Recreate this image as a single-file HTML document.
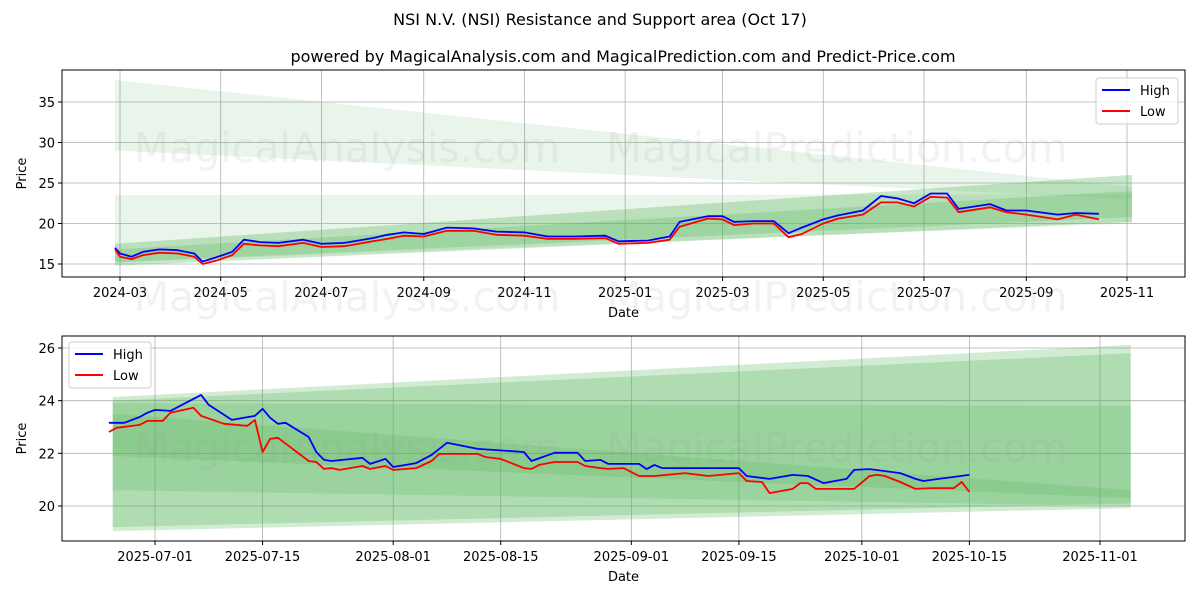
<!DOCTYPE html>
<html><head><meta charset="utf-8"><style>
body{margin:0;background:#fff;font-family:"Liberation Sans","DejaVu Sans",sans-serif}
svg text{font-family:"DejaVu Sans","Liberation Sans",sans-serif}
</style></head><body>
<svg id="c" width="1200" height="600" viewBox="0 0 1200 600" xmlns="http://www.w3.org/2000/svg">
<text x="600" y="25" text-anchor="middle" font-size="16">NSI N.V. (NSI) Resistance and Support area (Oct 17)</text>
<text x="623" y="62" text-anchor="middle" font-size="16">powered by MagicalAnalysis.com and MagicalPrediction.com and Predict-Price.com</text>
</svg>
<script>
// ---------- top chart data ----------
const topDates=["2024-02-27","2024-03-01","2024-03-08","2024-03-15","2024-03-25","2024-04-05","2024-04-15","2024-04-20","2024-04-28","2024-05-08","2024-05-15","2024-05-25","2024-06-05","2024-06-20","2024-07-01","2024-07-15","2024-08-01","2024-08-10","2024-08-20","2024-09-01","2024-09-15","2024-10-01","2024-10-15","2024-11-01","2024-11-15","2024-12-01","2024-12-20","2024-12-28","2025-01-15","2025-01-28","2025-02-03","2025-02-20","2025-03-01","2025-03-08","2025-03-20","2025-04-01","2025-04-10","2025-04-18","2025-05-01","2025-05-10","2025-05-25","2025-06-05","2025-06-15","2025-06-25","2025-07-05","2025-07-15","2025-07-22","2025-08-10","2025-08-20","2025-09-01","2025-09-20","2025-10-01","2025-10-15"];
const topHigh=[17.0,16.3,15.9,16.5,16.8,16.7,16.3,15.3,15.8,16.5,18.0,17.7,17.6,18.0,17.5,17.6,18.2,18.6,18.9,18.7,19.5,19.4,19.0,18.9,18.4,18.4,18.5,17.8,17.9,18.4,20.2,20.9,20.9,20.2,20.3,20.3,18.8,19.5,20.5,21.0,21.6,23.4,23.1,22.5,23.7,23.7,21.8,22.4,21.6,21.6,21.1,21.3,21.2];
const topLow=[16.8,15.9,15.6,16.1,16.4,16.3,15.9,15.0,15.4,16.1,17.5,17.3,17.2,17.6,17.1,17.2,17.8,18.1,18.5,18.4,19.1,19.1,18.6,18.5,18.1,18.1,18.2,17.5,17.6,18.0,19.6,20.6,20.5,19.8,20.0,20.0,18.3,18.7,20.0,20.6,21.1,22.6,22.6,22.1,23.3,23.2,21.4,22.0,21.4,21.1,20.5,21.1,20.5];
const topYTicks=[15,20,25,30,35];
const topXTicks=["2024-03","2024-05","2024-07","2024-09","2024-11","2025-01","2025-03","2025-05","2025-07","2025-09","2025-11"];
const topBandStart="2024-02-27", topBandEnd="2025-11-04";
const topBandLeftLow=[29.0,15.2,14.8,15.2];
const topBandLeftHigh=[37.7,23.5,17.5,16.8];
const topBandRightLow=[23.0,20.0,20.2,20.8];
const topBandRightHigh=[24.5,23.6,26.0,24.0];
const topBandAlpha=[0.12,0.12,0.3,0.25];
// ---------- bottom chart data (days offset from 2025-07-01) ----------
const botHighDays=[-6,-4,-2,-1,0,2,6,7,10,13,14,15,16,17,20,21,22,23,27,28,30,31,34,36,38,42,44,48,49,52,55,56,58,59,63,64,65,66,71,76,77,80,83,85,87,90,91,93,97,99,100,102,106];
const botHigh=[23.16,23.16,23.38,23.54,23.65,23.61,24.22,23.84,23.27,23.42,23.69,23.35,23.12,23.16,22.62,22.05,21.75,21.71,21.83,21.6,21.79,21.48,21.63,21.94,22.4,22.17,22.13,22.05,21.71,22.02,22.02,21.71,21.75,21.6,21.6,21.4,21.56,21.44,21.44,21.44,21.14,21.03,21.18,21.14,20.87,21.03,21.37,21.4,21.25,21.03,20.95,21.03,21.18];
const botLowDays=[-6,-5,-2,-1,1,2,5,6,9,12,13,14,15,16,20,21,22,23,24,27,28,30,31,34,36,37,42,43,45,48,49,50,52,55,56,58,59,61,63,65,69,72,76,77,79,80,83,84,85,86,91,93,94,95,97,99,101,104,105,106];
const botLow=[22.81,22.97,23.08,23.23,23.23,23.54,23.73,23.42,23.12,23.04,23.27,22.05,22.55,22.59,21.71,21.67,21.41,21.44,21.37,21.52,21.41,21.52,21.37,21.44,21.71,21.98,21.98,21.86,21.79,21.44,21.41,21.56,21.67,21.67,21.52,21.44,21.41,21.44,21.14,21.14,21.25,21.14,21.25,20.95,20.91,20.49,20.65,20.87,20.87,20.65,20.65,21.14,21.18,21.14,20.91,20.65,20.68,20.68,20.91,20.53];
const botYTicks=[20,22,24,26];
const botXTicks=["2025-07-01","2025-07-15","2025-08-01","2025-08-15","2025-09-01","2025-09-15","2025-10-01","2025-10-15","2025-11-01"];
const botBandStartDay=-5.5, botBandEndDay=127;
const botBandLeftLow=[19.05,19.2,21.9,20.6];
const botBandLeftHigh=[24.14,24.0,23.9,23.5];
const botBandRightLow=[19.92,20.1,20.3,20.0];
const botBandRightHigh=[26.12,25.8,23.8,20.6];
const botBandAlpha=[0.25,0.25,0.2,0.2];

const NS="http://www.w3.org/2000/svg";
const svg=document.getElementById('c');
function mk(tag,attrs,parent){const e=document.createElementNS(NS,tag);for(const k in attrs)e.setAttribute(k,attrs[k]);(parent||svg).appendChild(e);return e;}
const DAY=86400000;
function dnum(s){const p=s.split('-');return Date.UTC(+p[0],+p[1]-1,p[2]?+p[2]:1)/DAY;}

const T={x0:62,x1:1185,y0:70,y1:277};
const tx=d=>120+(dnum(d)-dnum("2024-03-01"))*(1127-120)/(dnum("2025-11-01")-dnum("2024-03-01"));
const ty=v=>264-(v-15)*(264-102)/20;
const B={x0:62,x1:1185,y0:336,y1:541};
const bx=d=>155+d*(1100-155)/123;
const by=v=>506-(v-20)*(506-348)/6;

function drawAxes(A,yt,ytf,xt,xtf,name){
  const g=mk('g',{});
  
  
  yt.forEach(v=>{const y=ytf(v);
    const l=mk('line',{x1:A.x0,x2:A.x1,y1:y,y2:y,stroke:'#b0b0b0','stroke-width':0.8},g);
    
    mk('line',{x1:A.x0-4,x2:A.x0,y1:y,y2:y,stroke:'#000'},g);
    const t=mk('text',{x:A.x0-7,y:y+5,'text-anchor':'end','font-size':13},g);t.textContent=v;
    });
  xt.forEach(d=>{const x=xtf(d);
    const l=mk('line',{x1:x,x2:x,y1:A.y0,y2:A.y1,stroke:'#b0b0b0','stroke-width':0.8},g);
    
    mk('line',{x1:x,x2:x,y1:A.y1,y2:A.y1+4,stroke:'#000'},g);
    const t=mk('text',{x:x,y:A.y1+20,'text-anchor':'middle','font-size':13},g);t.textContent=d;
    });
  const r=mk('rect',{x:A.x0,y:A.y0,width:A.x1-A.x0,height:A.y1-A.y0,fill:'none',stroke:'#000','stroke-width':1});
  
  const xl=mk('text',{x:(A.x0+A.x1)/2,y:A.y1+40,'text-anchor':'middle','font-size':13});xl.textContent='Date';
  
  const yl=mk('text',{x:0,y:0,'text-anchor':'middle','font-size':13,transform:`translate(26,${(A.y0+A.y1)/2}) rotate(-90)`});yl.textContent='Price';
  
}
function bands(xa,xb,ll,lh,rl,rh,al,yf){
  for(let i=0;i<ll.length;i++){
    const p=mk('polygon',{points:`${xa},${yf(lh[i])} ${xb},${yf(rh[i])} ${xb},${yf(rl[i])} ${xa},${yf(ll[i])}`,fill:'#4caf50','fill-opacity':al[i]});
    
    
  }
}
function wm(x,y,s){const t=mk('text',{x:x,y:y,'text-anchor':'middle','font-size':41,fill:'#999','fill-opacity':0.13});t.textContent=s;
  }
function line(xs,ys,xf,yf,col,name){
  const pts=xs.map((d,i)=>xf(d).toFixed(1)+','+yf(ys[i]).toFixed(1)).join(' ');
  const p=mk('polyline',{points:pts,fill:'none',stroke:col,'stroke-width':1.8,'stroke-linejoin':'round'});
  
  
}
function legend(x,y,name){
  const g=mk('g',{});
  
  
  mk('rect',{x:x,y:y,width:82,height:46,rx:3,fill:'#fff','fill-opacity':0.8,stroke:'#ccc'},g);
  [['High','#0000ff'],['Low','#ff0000']].forEach((e,i)=>{
    const yy=y+12+i*21;
    mk('line',{x1:x+6,x2:x+34,y1:yy,y2:yy,stroke:e[1],'stroke-width':2},g);
    const t=mk('text',{x:x+44,y:yy+5,'font-size':13},g);t.textContent=e[0];
    
  });
}
drawAxes(T,topYTicks,ty,topXTicks,tx,'top');
bands(tx(topBandStart),tx(topBandEnd),topBandLeftLow,topBandLeftHigh,topBandRightLow,topBandRightHigh,topBandAlpha,ty);
wm(347,162,'MagicalAnalysis.com');wm(837,162,'MagicalPrediction.com');
wm(347,311,'MagicalAnalysis.com');wm(837,311,'MagicalPrediction.com');
line(topDates,topHigh,tx,ty,'#0000ff','high-line-top');
line(topDates,topLow,tx,ty,'#ff0000','low-line-top');
legend(1096,78,'top-legend');
drawAxes(B,botYTicks,by,botXTicks,s=>bx(dnum(s)-dnum("2025-07-01")),'bottom');
bands(bx(botBandStartDay),bx(botBandEndDay),botBandLeftLow,botBandLeftHigh,botBandRightLow,botBandRightHigh,botBandAlpha,by);
wm(347,462,'MagicalAnalysis.com');wm(837,462,'MagicalPrediction.com');
line(botHighDays,botHigh,bx,by,'#0000ff','high-line-bottom');
line(botLowDays,botLow,bx,by,'#ff0000','low-line-bottom');
legend(69,342,'bottom-legend');
</script>
</body></html>
